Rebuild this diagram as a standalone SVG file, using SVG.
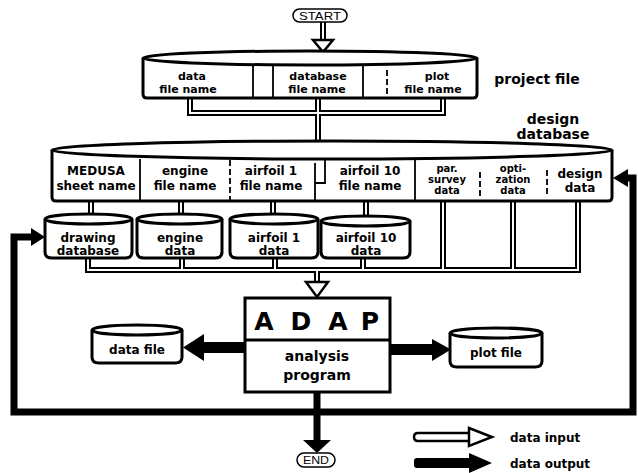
<svg xmlns="http://www.w3.org/2000/svg" width="638" height="473" viewBox="0 0 638 473">
<style>
.bg{fill:#fff}
.cyl{fill:#fff;stroke:#000;stroke-width:3}
.div{stroke:#000;stroke-width:1.8;fill:none}
.dash{stroke:#000;stroke-width:1.8;fill:none;stroke-dasharray:6 3}
.t{font-family:"DejaVu Sans",sans-serif;font-weight:bold;font-size:12px;fill:#000;text-anchor:middle}
.tp{font-family:"DejaVu Sans",sans-serif;font-weight:bold;font-size:11px;fill:#000;text-anchor:middle}
.ts{font-family:"DejaVu Sans",sans-serif;font-weight:bold;font-size:10px;fill:#000;text-anchor:middle}
.lbl{font-family:"DejaVu Sans",sans-serif;font-weight:bold;font-size:14px;fill:#000;text-anchor:middle}
.cap{font-family:"Liberation Sans",sans-serif;font-size:11px;fill:#000;text-anchor:middle}
.big{font-family:"DejaVu Sans",sans-serif;font-weight:bold;font-size:25px;fill:#000;text-anchor:middle}
.dO{fill:none;stroke:#000;stroke-width:6;stroke-linejoin:miter}
.dI{fill:none;stroke:#fff;stroke-width:2;stroke-linejoin:miter}
.head{fill:#fff;stroke:#000;stroke-width:2.5;stroke-linejoin:miter}
.thick{fill:none;stroke:#000;stroke-width:7;stroke-linejoin:miter}
.blk{fill:#000}
.lt{font-family:"DejaVu Sans",sans-serif;font-weight:bold;font-size:12px;fill:#000;text-anchor:start}
</style>
<rect class="bg" x="0" y="0" width="638" height="473"/>

<g id="connectors">
  <path class="dO" d="M323,22 V42"/><path class="dI" d="M323,22 V42"/>
  <polygon class="head" points="313,40 333,40 323,52"/>
  <path class="dO" d="M190,97 V113 H443 V97 M318,97 V141"/>
  <path class="dI" d="M190,97 V113 H443 V97 M318,97 V141"/>
  <path class="dO" d="M91,201 V214 M181,201 V214 M273,201 V214 M366,201 V216"/>
  <path class="dI" d="M91,201 V214 M181,201 V214 M273,201 V214 M366,201 V216"/>
  <path class="dO" d="M88,258 V270 H578 V201 M182,258 V270 M275,258 V270 M363,258 V270 M443,201 V270 M513,201 V270 M317,270 V284"/>
  <path class="dI" d="M88,258 V270 H578 V201 M182,258 V270 M275,258 V270 M363,258 V270 M443,201 V270 M513,201 V270 M317,270 V284"/>
  <polygon class="head" points="306,282 328,282 317,297"/>
  <rect class="blk" x="201" y="342" width="45" height="11"/>
  <polygon class="blk" points="204,334 183,347.5 204,361"/>
  <rect class="blk" x="390" y="344" width="45" height="11"/>
  <polygon class="blk" points="432,339 451,349.5 432,361"/>
  <path class="thick" d="M317,392 V442"/>
  <polygon class="blk" points="303,440 331,440 317,453"/>
  <path class="thick" d="M36,237 H14 V412 H633 V178 H624"/>
  <polygon class="blk" points="31,228 45,237 31,246"/>
  <polygon class="blk" points="628,169 613,178 628,187"/>
</g>

<g id="start">
  <rect x="293" y="9" width="54" height="13" rx="6.5" fill="#fff" stroke="#000" stroke-width="1.5"/>
  <text class="cap" x="320" y="20" textLength="42" lengthAdjust="spacingAndGlyphs">START</text>
</g>

<g id="project-file">
  <path class="cyl" d="M143,58 V94 Q143,98 147,98 H473 Q477,98 477,94 V58"/>
  <ellipse class="cyl" cx="310" cy="58" rx="167" ry="7"/>
  <path class="div" d="M253,65 V97 M273,65 V97 M363,65 V97"/>
  <path class="dash" d="M387,70 V95"/>
  <text class="tp" x="192" y="80">data</text>
  <text class="tp" x="188" y="93">file name</text>
  <text class="tp" x="318" y="80">database</text>
  <text class="tp" x="317" y="93">file name</text>
  <text class="tp" x="437" y="80">plot</text>
  <text class="tp" x="433" y="93">file name</text>
  <text class="lbl" x="537" y="84">project file</text>
</g>

<g id="design-database">
  <text class="lbl" x="553" y="124">design</text>
  <text class="lbl" x="553" y="139">database</text>
  <path class="cyl" d="M52,150 V197 Q52,201 56,201 H608 Q612,201 612,197 V150"/>
  <ellipse class="cyl" cx="332" cy="150" rx="280" ry="9"/>
  <path class="div" d="M140,159 V201 M315,163 V201 M325,159 V183 H315 M415,159 V201"/>
  <path class="dash" d="M230,160 V201 M480,172 V196 M547,170 V196"/>
  <text class="t" x="96" y="175">MEDUSA</text>
  <text class="t" x="96" y="190">sheet name</text>
  <text class="t" x="185" y="175">engine</text>
  <text class="t" x="185" y="190">file name</text>
  <text class="t" x="271" y="175">airfoil 1</text>
  <text class="t" x="271" y="190">file name</text>
  <text class="t" x="370" y="175">airfoil 10</text>
  <text class="t" x="370" y="190">file name</text>
  <text class="ts" x="447" y="172">par.</text>
  <text class="ts" x="447" y="183">survey</text>
  <text class="ts" x="447" y="194">data</text>
  <text class="ts" x="513" y="172">opti-</text>
  <text class="ts" x="513" y="183">zation</text>
  <text class="ts" x="513" y="194">data</text>
  <text class="t" x="580" y="178">design</text>
  <text class="t" x="580" y="192">data</text>
</g>

<g id="drawing-database">
  <path class="cyl" d="M45,219 V252 Q45,258 52,258 H125 Q132,258 132,252 V219"/>
  <ellipse class="cyl" cx="88.5" cy="219" rx="43.5" ry="5"/>
  <text class="t" x="88" y="242">drawing</text>
  <text class="t" x="88" y="255">database</text>
</g>
<g id="engine-data">
  <path class="cyl" d="M137,219 V252 Q137,258 144,258 H215 Q222,258 222,252 V219"/>
  <ellipse class="cyl" cx="179.5" cy="219" rx="42.5" ry="5"/>
  <text class="t" x="180" y="242">engine</text>
  <text class="t" x="180" y="255">data</text>
</g>
<g id="airfoil1-data">
  <path class="cyl" d="M230,219 V252 Q230,258 237,258 H311 Q318,258 318,252 V219"/>
  <ellipse class="cyl" cx="274" cy="219" rx="44" ry="5"/>
  <text class="t" x="274" y="242">airfoil 1</text>
  <text class="t" x="274" y="255">data</text>
</g>
<g id="airfoil10-data">
  <path class="cyl" d="M321,221 V252 Q321,258 328,258 H403 Q410,258 410,252 V221"/>
  <ellipse class="cyl" cx="365.5" cy="221" rx="44.5" ry="5"/>
  <text class="t" x="366" y="242">airfoil 10</text>
  <text class="t" x="366" y="255">data</text>
</g>

<g id="adap">
  <rect x="245" y="298" width="145" height="94" fill="#fff" stroke="#000" stroke-width="3"/>
  <line x1="245" y1="340" x2="390" y2="340" stroke="#000" stroke-width="3"/>
  <text class="big" x="264" y="330">A</text>
  <text class="big" x="301" y="330">D</text>
  <text class="big" x="338" y="330">A</text>
  <text class="big" x="370" y="330">P</text>
  <text class="lbl" x="317" y="361">analysis</text>
  <text class="lbl" x="317" y="380">program</text>
</g>

<g id="data-file">
  <path class="cyl" d="M92,330 V357 Q92,363 99,363 H175 Q182,363 182,357 V330"/>
  <ellipse class="cyl" cx="137" cy="330" rx="45" ry="5"/>
  <text class="t" x="137" y="354">data file</text>
</g>
<g id="plot-file">
  <path class="cyl" d="M450,333 V361 Q450,367 457,367 H535 Q542,367 542,361 V333"/>
  <ellipse class="cyl" cx="496" cy="333" rx="46" ry="5"/>
  <text class="t" x="496" y="357">plot file</text>
</g>

<g id="end">
  <rect x="297" y="453" width="38" height="14" rx="7" fill="#fff" stroke="#000" stroke-width="1.5"/>
  <text class="cap" x="316" y="464" textLength="26" lengthAdjust="spacingAndGlyphs">END</text>
</g>

<g id="legend">
  <path d="M470,433 H418 Q414,433 414,437 Q414,441 418,441 H470" fill="#fff" stroke="#000" stroke-width="2.5"/>
  <polygon class="head" points="469,428 492,437 469,446"/>
  <text class="lt" x="510" y="442">data input</text>
  <rect class="blk" x="414" y="458" width="58" height="10" rx="3"/>
  <polygon class="blk" points="469,453 492,463 469,473"/>
  <text class="lt" x="510" y="468">data output</text>
</g>
</svg>
